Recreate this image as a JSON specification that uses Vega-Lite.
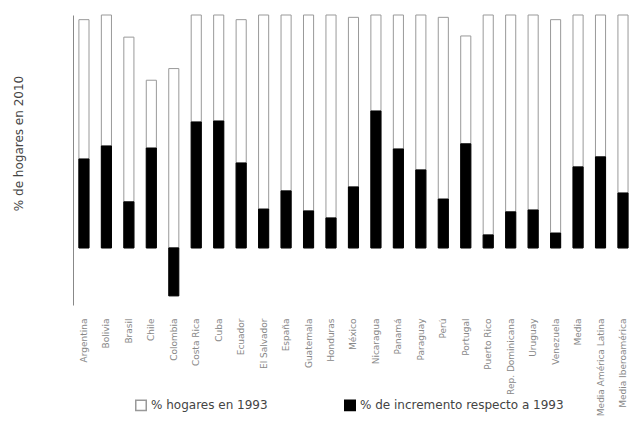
{
  "$schema": "https://vega.github.io/schema/vega-lite/v6.json",
  "autosize": "none",
  "padding": {"left": 73, "top": 15, "right": 0, "bottom": 135},
  "width": 557,
  "height": 290,
  "background": "white",
  "config": {"view": {"stroke": null}, "font": "DejaVu Sans"},
  "data": {
    "values": [
      {"pais": "Argentina", "serie": "% hogares en 1993", "valor": 98},
      {"pais": "Bolivia", "serie": "% hogares en 1993", "valor": 100},
      {"pais": "Brasil", "serie": "% hogares en 1993", "valor": 90.5},
      {"pais": "Chile", "serie": "% hogares en 1993", "valor": 72},
      {"pais": "Colombia", "serie": "% hogares en 1993", "valor": 77},
      {"pais": "Costa Rica", "serie": "% hogares en 1993", "valor": 100},
      {"pais": "Cuba", "serie": "% hogares en 1993", "valor": 100},
      {"pais": "Ecuador", "serie": "% hogares en 1993", "valor": 98},
      {"pais": "El Salvador", "serie": "% hogares en 1993", "valor": 100},
      {"pais": "España", "serie": "% hogares en 1993", "valor": 100},
      {"pais": "Guatemala", "serie": "% hogares en 1993", "valor": 100},
      {"pais": "Honduras", "serie": "% hogares en 1993", "valor": 100},
      {"pais": "México", "serie": "% hogares en 1993", "valor": 99},
      {"pais": "Nicaragua", "serie": "% hogares en 1993", "valor": 100},
      {"pais": "Panamá", "serie": "% hogares en 1993", "valor": 100},
      {"pais": "Paraguay", "serie": "% hogares en 1993", "valor": 100},
      {"pais": "Perú", "serie": "% hogares en 1993", "valor": 99},
      {"pais": "Portugal", "serie": "% hogares en 1993", "valor": 91},
      {"pais": "Puerto Rico", "serie": "% hogares en 1993", "valor": 100},
      {"pais": "Rep. Dominicana", "serie": "% hogares en 1993", "valor": 100},
      {"pais": "Uruguay", "serie": "% hogares en 1993", "valor": 100},
      {"pais": "Venezuela", "serie": "% hogares en 1993", "valor": 98},
      {"pais": "Media", "serie": "% hogares en 1993", "valor": 100},
      {"pais": "Media América Latina", "serie": "% hogares en 1993", "valor": 100},
      {"pais": "Media Iberoamérica", "serie": "% hogares en 1993", "valor": 100},
      {"pais": "Argentina", "serie": "% de incremento respecto a 1993", "valor": 38.2},
      {"pais": "Bolivia", "serie": "% de incremento respecto a 1993", "valor": 43.8},
      {"pais": "Brasil", "serie": "% de incremento respecto a 1993", "valor": 19.8},
      {"pais": "Chile", "serie": "% de incremento respecto a 1993", "valor": 42.9},
      {"pais": "Colombia", "serie": "% de incremento respecto a 1993", "valor": -20.6},
      {"pais": "Costa Rica", "serie": "% de incremento respecto a 1993", "valor": 54.1},
      {"pais": "Cuba", "serie": "% de incremento respecto a 1993", "valor": 54.5},
      {"pais": "Ecuador", "serie": "% de incremento respecto a 1993", "valor": 36.5},
      {"pais": "El Salvador", "serie": "% de incremento respecto a 1993", "valor": 16.7},
      {"pais": "España", "serie": "% de incremento respecto a 1993", "valor": 24.5},
      {"pais": "Guatemala", "serie": "% de incremento respecto a 1993", "valor": 15.9},
      {"pais": "Honduras", "serie": "% de incremento respecto a 1993", "valor": 12.9},
      {"pais": "México", "serie": "% de incremento respecto a 1993", "valor": 26.2},
      {"pais": "Nicaragua", "serie": "% de incremento respecto a 1993", "valor": 58.8},
      {"pais": "Panamá", "serie": "% de incremento respecto a 1993", "valor": 42.5},
      {"pais": "Paraguay", "serie": "% de incremento respecto a 1993", "valor": 33.5},
      {"pais": "Perú", "serie": "% de incremento respecto a 1993", "valor": 21.0},
      {"pais": "Portugal", "serie": "% de incremento respecto a 1993", "valor": 44.7},
      {"pais": "Puerto Rico", "serie": "% de incremento respecto a 1993", "valor": 5.6},
      {"pais": "Rep. Dominicana", "serie": "% de incremento respecto a 1993", "valor": 15.5},
      {"pais": "Uruguay", "serie": "% de incremento respecto a 1993", "valor": 16.3},
      {"pais": "Venezuela", "serie": "% de incremento respecto a 1993", "valor": 6.4},
      {"pais": "Media", "serie": "% de incremento respecto a 1993", "valor": 34.8},
      {"pais": "Media América Latina", "serie": "% de incremento respecto a 1993", "valor": 39.1},
      {"pais": "Media Iberoamérica", "serie": "% de incremento respecto a 1993", "valor": 23.6}
    ]
  },
  "mark": {"type": "bar", "strokeWidth": 1},
  "encoding": {
    "x": {
      "field": "pais",
      "type": "nominal",
      "sort": null,
      "scale": {"paddingInner": 0.55, "paddingOuter": 0.175, "align": 0.75},
      "axis": {
        "title": null,
        "domain": false,
        "ticks": false,
        "labelAngle": -90,
        "labelAlign": "right",
        "labelBaseline": "middle",
        "labelPadding": 13,
        "labelFontSize": 9,
        "labelColor": "#888"
      }
    },
    "y": {
      "field": "valor",
      "type": "quantitative",
      "stack": null,
      "scale": {"domain": [-24.5, 100], "nice": false, "zero": false},
      "axis": {
        "title": "% de hogares en 2010",
        "titleFontSize": 12,
        "titleFontWeight": "normal",
        "titleColor": "#444",
        "titleAngle": -90,
        "titleX": -55,
        "titleY": 128,
        "titleAlign": "center",
        "titleBaseline": "middle",
        "labels": false,
        "ticks": false,
        "grid": false,
        "domainColor": "#888",
        "domainWidth": 1
      }
    },
    "fill": {
      "field": "serie",
      "type": "nominal",
      "scale": {"domain": ["% hogares en 1993", "% de incremento respecto a 1993"], "range": ["white", "black"]},
      "legend": {
        "title": null,
        "orient": "none",
        "direction": "horizontal",
        "legendX": 62,
        "legendY": 384,
        "symbolType": "square",
        "symbolSize": 110,
        "labelFontSize": 12,
        "labelColor": "#444",
        "labelLimit": 0,
        "columnPadding": 73
      }
    },
    "stroke": {
      "field": "serie",
      "type": "nominal",
      "scale": {"domain": ["% hogares en 1993", "% de incremento respecto a 1993"], "range": ["#999", "black"]}
    }
  }
}
